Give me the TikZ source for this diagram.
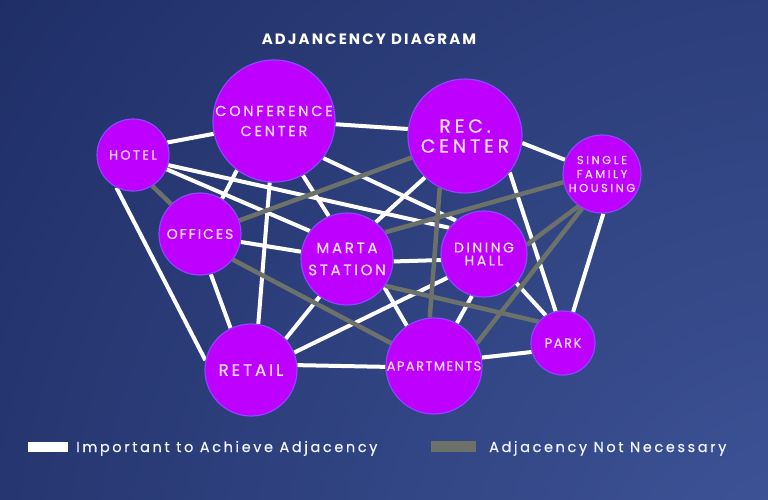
\documentclass[tikz,border=0pt]{standalone}
\usepackage{fontspec}
\setmainfont{Poppins}
\newfontfamily\lab[FakeBold=0.5]{Poppins}
\newfontfamily\leg[LetterSpace=18,FakeBold=0.4]{Poppins}
\newfontfamily\ttl[LetterSpace=14]{Poppins}
\definecolor{bgdark}{RGB}{30,45,101}
\definecolor{bglight}{RGB}{64,86,154}
\definecolor{nodefill}{RGB}{190,0,255}
\definecolor{nodeline}{RGB}{140,70,255}
\definecolor{labcol}{RGB}{255,222,255}
\definecolor{graylink}{RGB}{108,114,106}
\definecolor{legtext}{RGB}{240,245,255}
\pgfdeclarelayer{bg}
\pgfdeclarelayer{edges}
\pgfsetlayers{bg,edges,main}
\tikzset{
  room/.style={circle, fill=nodefill, draw=nodeline, line width=1.2pt, inner sep=0pt,
    text=labcol, align=center},
  fs/.style n args={3}{font=\lab\addfontfeature{LetterSpace=#3}\fontsize{#1}{#2}\selectfont},
  must/.style={draw=white, line width=4pt},
  maybe/.style={draw=graylink, line width=4.5pt},
  legtxt/.style={anchor=base west, inner sep=0pt, text=legtext, font=\leg\fontsize{14.5}{16}\selectfont},
}
\begin{document}
\begin{tikzpicture}[x=1pt,y=-1pt]
\useasboundingbox (0,0) rectangle (768,499);
\begin{pgfonlayer}{bg}
  \fill[bgdark] (0,0) rectangle (768,499);
  \begin{scope}
    \clip (0,0) rectangle (768,499);
    \shade[inner color=bglight, outer color=bgdark] (820,600) circle (1050pt);
  \end{scope}
\end{pgfonlayer}

% title
\node[anchor=base, inner sep=0pt, text=white, font=\ttl\bfseries\fontsize{15}{17}\selectfont] (title) at (369,44) {ADJANCENCY DIAGRAM};

% rooms
\node[room, fs={13}{15}{18},   minimum size=72pt]  (hotel)  at (133,155) {HOTEL};
\node[room, fs={14.5}{20}{19}, minimum size=122pt] (conf)   at (274,121) {CONFERENCE\\CENTER};
\node[room, fs={19}{20}{20},   minimum size=114pt] (rec)    at (465,136) {REC.\\CENTER};
\node[room, fs={11.5}{14}{22}, minimum size=78pt]  (sfh)    at (602,174) {SINGLE\\FAMILY\\HOUSING};
\node[room, fs={14}{16}{14},   minimum size=82pt]  (off)    at (200,234) {OFFICES};
\node[room, fs={15}{22}{18},   minimum size=92pt]  (marta)  at (347,259) {MARTA\\STATION};
\node[room, fs={14}{13}{18},   minimum size=86pt]  (dining) at (484,254) {DINING\\HALL};
\node[room, fs={16.5}{18}{18}, minimum size=92pt]  (retail) at (251,370) {RETAIL};
\node[room, fs={13}{15}{11},   minimum size=96pt]  (apt)    at (434,366) {APARTMENTS};
\node[room, fs={13}{15}{12},   minimum size=64pt]  (park)   at (563,343) {PARK};

\begin{pgfonlayer}{edges}
  % important (white)
  \draw[must] (hotel.20)   -- (conf.192);
  \draw[must] (hotel.243)  -- (retail.168);
  \draw[must] (hotel.-23)  -- (marta.143);
  \draw[must] (hotel.-16)  -- (dining.143);
  \draw[must] (conf.-3)    -- (rec.173);
  \draw[must] (conf.233)   -- (off.58);
  \draw[must] (conf.266)   -- (retail.81);
  \draw[must] (conf.298)   -- (marta.113);
  \draw[must] (conf.323)   -- (dining.130);
  \draw[must] (rec.353)    -- (sfh.159);
  \draw[must] (rec.226)    -- (marta.52);
  \draw[must] (rec.321)    -- (park.103);
  \draw[must] (sfh.272)    -- (park.72);
  \draw[must] (off.349)    -- (marta.171);
  \draw[must] (off.285)    -- (retail.116);
  \draw[must] (marta.357)  -- (dining.188);
  \draw[must] (marta.234)  -- (retail.42);
  \draw[must] (marta.323)  -- (apt.124);
  \draw[must] (dining.213) -- (retail.22);
  \draw[must] (dining.254) -- (apt.62);
  \draw[must] (dining.318) -- (park.122);
  \draw[must] (retail.6)   -- (apt.181);
  \draw[must] (apt.10)     -- (park.196);
  % not necessary (gray)
  \draw[maybe] (hotel.-58) -- (off.134);
  \draw[maybe] (rec.202)   -- (off.19);
  \draw[maybe] (rec.244)   -- (apt.95);
  \draw[maybe] (sfh.192)   -- (marta.35);
  \draw[maybe] (sfh.234)   -- (dining.12);
  \draw[maybe] (sfh.240)   -- (apt.28);
  \draw[maybe] (off.322)   -- (apt.152);
  \draw[maybe] (marta.325) -- (park.139);
\end{pgfonlayer}

% legend
\node[fill=white, minimum width=40pt, minimum height=10pt, inner sep=0pt, anchor=north west] (keyw) at (28,442) {};
\node[legtxt] (keywt) at (76,452) {Important to Achieve Adjacency};
\node[fill=graylink, minimum width=45pt, minimum height=11pt, inner sep=0pt, anchor=north west] (keyg) at (431,441) {};
\node[legtxt] (keygt) at (489,452) {Adjacency Not Necessary};
\end{tikzpicture}
\end{document}
